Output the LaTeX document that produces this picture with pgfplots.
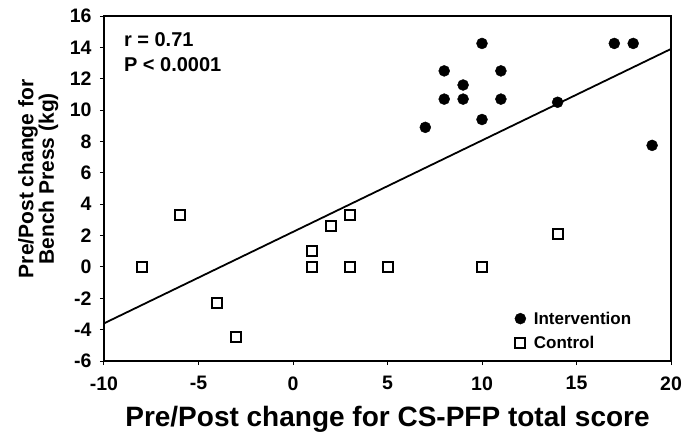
\documentclass[border=0pt]{standalone}
\usepackage{fontspec}
\setmainfont{Liberation Sans}
\usepackage{pgfplots}
\pgfplotsset{compat=1.18}

\begin{document}
\begin{tikzpicture}[x=1pt,y=1pt]
\begin{axis}[
    name=ax,
    at={(0,0)}, anchor=south west,
    scale only axis,
    width=567pt, height=345pt,
    xmin=-10, xmax=20, ymin=-6, ymax=16,
    xtick={-10,-5,...,20},
    ytick={-6,-4,...,16},
    tick align=outside,
    major tick length=4pt,
    xtick pos=bottom, ytick pos=left,
    axis line style={line width=1.3pt},
    tick style={line width=1pt, black},
    /pgf/number format/assume math mode=true,
    ticklabel style={font=\fontsize{19.5}{19.5}\selectfont\bfseries},
    xticklabel style={yshift=-8pt},
    yticklabel style={xshift=-5pt},
    xlabel={Pre/Post change for CS-PFP total score},
    xlabel style={font=\fontsize{28}{28}\selectfont\bfseries,
        at={(axis description cs:0.5,-0.168)}, anchor=center},
    ylabel={Pre/Post change for\\Bench Press (kg)},
    ylabel style={align=center, font=\fontsize{21}{18.5}\selectfont\bfseries,
        at={(axis description cs:-0.116,0.528)}, anchor=center},
    legend style={draw=none, fill=none,
        at={(axis description cs:0.719,0.155)}, anchor=north west,
        font=\fontsize{17}{17}\selectfont\bfseries,
        row sep=7pt, column sep=6pt},
    legend cell align=left,
]
% intervention
\addplot[only marks, mark=*, mark size=5.5pt, black] coordinates {
    (7,8.9) (8,12.5) (8,10.7) (9,11.6) (9,10.7) (10,14.25) (10,9.4)
    (11,12.5) (11,10.7) (14,10.5) (17,14.25) (18,14.25) (19,7.75)
};
\addlegendentry{Intervention}
% control
\addplot[only marks, mark=square, mark size=5pt, line width=2pt, black] coordinates {
    (-8,0) (-6,3.33) (-4,-2.3) (-3,-4.5) (1,1.0) (1,0) (2,2.6)
    (3,3.33) (3,0) (5,0) (10,0) (14,2.1)
};
\addlegendentry{Control}
% regression line
\addplot[line width=1.8pt, black, no marks, forget plot] coordinates {(-10,-3.6) (20,13.9)};
\node[anchor=base west, inner sep=0, font=\fontsize{20}{20}\selectfont\bfseries]
    at (axis description cs:0.035,0.912) {r = 0.71};
\node[anchor=base west, inner sep=0, font=\fontsize{20}{20}\selectfont\bfseries]
    at (axis description cs:0.035,0.84) {P < 0.0001};
\end{axis}
\pgfresetboundingbox
\path (-104,-71) rectangle (578,361);
\end{tikzpicture}
\end{document}
